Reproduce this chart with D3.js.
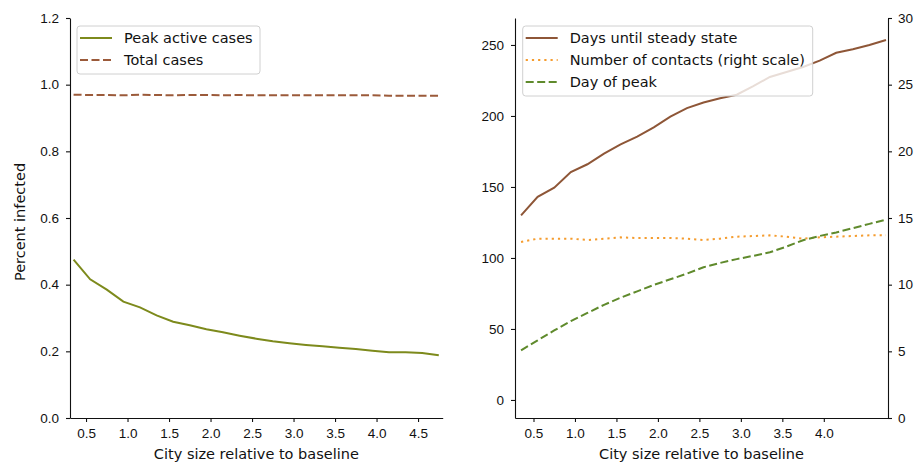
<!DOCTYPE html>
<html>
<head>
<meta charset="utf-8">
<script src="https://cdn.jsdelivr.net/npm/d3@7"></script>
<style>
  body { margin: 0; background: #fff; }
  svg { font-family: 'DejaVu Sans', sans-serif; }
  .tick text { font-size: 13.5px; fill: #111; }
  .domain, .tick line { stroke: #111; stroke-width: 1.1; }
</style>
</head>
<body>
<script>
// city size relative to baseline (shared x values)
const citySize = [0.35, 0.55, 0.75, 0.95, 1.15, 1.35, 1.55, 1.75, 1.95, 2.15, 2.35, 2.55,
  2.75, 2.95, 3.15, 3.35, 3.55, 3.75, 3.95, 4.15, 4.35, 4.55, 4.75]

// left panel
const peakActive = [0.475, 0.416, 0.385, 0.349, 0.332, 0.308, 0.289, 0.278, 0.266, 0.257, 0.247, 0.238,
  0.230, 0.224, 0.219, 0.215, 0.211, 0.207, 0.202, 0.197, 0.197, 0.195, 0.188]
const totalCases = [0.970, 0.969, 0.969, 0.968, 0.970, 0.969, 0.968, 0.969, 0.969, 0.968, 0.969, 0.968,
  0.968, 0.968, 0.968, 0.968, 0.968, 0.968, 0.968, 0.967, 0.967, 0.967, 0.967]

// right panel
const daysSteady = [130, 143, 149.5, 160.5, 166, 173.5, 180, 185.5, 192, 199.5, 205.5, 209.5,
  212.5, 215, 221, 227.5, 231, 234.5, 239, 244.5, 247, 250, 253.5]
const contacts = [13.2, 13.45, 13.45, 13.45, 13.35, 13.45, 13.55, 13.5, 13.5, 13.5, 13.45, 13.35,
  13.45, 13.6, 13.65, 13.7, 13.6, 13.45, 13.55, 13.6, 13.65, 13.7, 13.7]
const dayOfPeak = [35, 42, 49, 55.5, 61.3, 67, 72, 76.5, 81, 85, 89, 93.5,
  96.5, 99.2, 101.5, 104, 108, 112.5, 115.5, 118, 121, 124, 127]

const leftXTicks = [0.5, 1.0, 1.5, 2.0, 2.5, 3.0, 3.5, 4.0, 4.5]
const rightXTicks = [0.5, 1.0, 1.5, 2.0, 2.5, 3.0, 3.5, 4.0]
const leftYTicks = [0, 0.2, 0.4, 0.6, 0.8, 1.0, 1.2]
const daysTicks = [0, 50, 100, 150, 200, 250]
const contactTicks = [0, 5, 10, 15, 20, 25, 30]

const xLabel = 'City size relative to baseline'

const svg = d3.select('body').append('svg')
  .attr('width', 917)
  .attr('height', 463)

const plotTop = 18
const plotBottom = 418
const lw = 2
const dashed = '8,3.5'
const dotted = '2.2,4'
const labelSize = 14.5

function drawSeries (g, xs, ys, xScale, yScale, color, dash) {
  const line = d3.line()
    .x((d, i) => xScale(xs[i]))
    .y(d => yScale(d))
  g.append('path')
    .datum(ys)
    .attr('fill', 'none')
    .attr('stroke', color)
    .attr('stroke-width', lw)
    .attr('stroke-dasharray', dash || null)
    .attr('d', line)
}

function drawLegend (g, x, y, w, items) {
  const rowH = 22
  const h = items.length * rowH + 4
  g.append('rect')
    .attr('x', x).attr('y', y)
    .attr('width', w).attr('height', h)
    .attr('rx', 3)
    .attr('fill', '#fff').attr('fill-opacity', 0.8)
    .attr('stroke', '#d0d0d0')
  items.forEach((it, i) => {
    const cy = y + 12 + i * rowH
    g.append('line')
      .attr('x1', x + 3).attr('x2', x + 35)
      .attr('y1', cy).attr('y2', cy)
      .attr('stroke', it.color)
      .attr('stroke-width', lw)
      .attr('stroke-dasharray', it.dash || null)
    g.append('text')
      .attr('x', x + 47).attr('y', cy)
      .attr('dy', '0.35em')
      .attr('font-size', labelSize)
      .attr('fill', '#111')
      .text(it.label)
  })
}

// ---- left panel ----
const lx = d3.scaleLinear().domain([0.307, 4.797]).range([70, 442.7])
const ly = d3.scaleLinear().domain([0, 1.2]).range([plotBottom, plotTop])
const gl = svg.append('g')

gl.append('g')
  .attr('transform', 'translate(0,' + plotBottom + ')')
  .call(d3.axisBottom(lx).tickValues(leftXTicks).tickFormat(d3.format('.1f'))
    .tickSize(4).tickPadding(6).tickSizeOuter(0))
gl.append('g')
  .attr('transform', 'translate(70,0)')
  .call(d3.axisLeft(ly).tickValues(leftYTicks).tickFormat(d3.format('.1f'))
    .tickSize(4).tickPadding(7).tickSizeOuter(0))

drawSeries(gl, citySize, peakActive, lx, ly, '#7d8a1c')
drawSeries(gl, citySize, totalCases, lx, ly, '#9b5a3a', dashed)

gl.append('text')
  .attr('transform', 'translate(25,' + 222 + ') rotate(-90)')
  .attr('text-anchor', 'middle')
  .attr('font-size', labelSize)
  .attr('fill', '#111')
  .text('Percent infected')
gl.append('text')
  .attr('x', (70 + 442.7) / 2).attr('y', 459)
  .attr('text-anchor', 'middle')
  .attr('font-size', labelSize)
  .attr('fill', '#111')
  .text(xLabel)

drawLegend(gl, 77, 26, 183, [
  { label: 'Peak active cases', color: '#7d8a1c' },
  { label: 'Total cases', color: '#9b5a3a', dash: dashed }
])

// ---- right panel ----
const rx = d3.scaleLinear().domain([0.277, 4.774]).range([515, 888])
const ry = d3.scaleLinear().domain([-12.7, 269]).range([plotBottom, plotTop])
const ry2 = d3.scaleLinear().domain([0, 30]).range([plotBottom, plotTop])
const gr = svg.append('g')

gr.append('g')
  .attr('transform', 'translate(0,' + plotBottom + ')')
  .call(d3.axisBottom(rx).tickValues(rightXTicks).tickFormat(d3.format('.1f'))
    .tickSize(4).tickPadding(6).tickSizeOuter(0))
gr.append('g')
  .attr('transform', 'translate(515,0)')
  .call(d3.axisLeft(ry).tickValues(daysTicks).tickFormat(d3.format('d'))
    .tickSize(4).tickPadding(7).tickSizeOuter(0))
gr.append('g')
  .attr('transform', 'translate(888,0)')
  .call(d3.axisRight(ry2).tickValues(contactTicks).tickFormat(d3.format('d'))
    .tickSize(4).tickPadding(6).tickSizeOuter(0))

drawSeries(gr, citySize, daysSteady, rx, ry, '#8e5637')
drawSeries(gr, citySize, contacts, rx, ry2, '#f59c2e', dotted)
drawSeries(gr, citySize, dayOfPeak, rx, ry, '#5f8a2c', dashed)

gr.append('text')
  .attr('x', (515 + 888) / 2).attr('y', 459)
  .attr('text-anchor', 'middle')
  .attr('font-size', labelSize)
  .attr('fill', '#111')
  .text(xLabel)

drawLegend(gr, 522.7, 26, 290, [
  { label: 'Days until steady state', color: '#8e5637' },
  { label: 'Number of contacts (right scale)', color: '#f59c2e', dash: dotted },
  { label: 'Day of peak', color: '#5f8a2c', dash: dashed }
])
</script>
</body>
</html>
